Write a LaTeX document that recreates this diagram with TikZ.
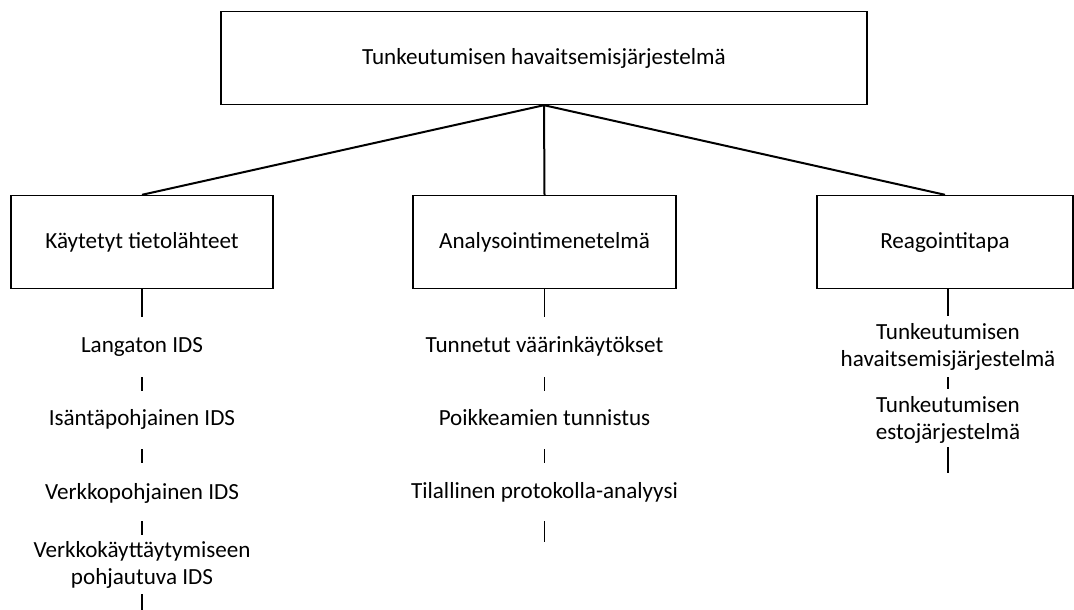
\documentclass[tikz,border=0pt]{standalone}
\usepackage{fontspec}
\setmainfont{Carlito}
\begin{document}
\begin{tikzpicture}[x=1pt,y=-1pt,
  box/.style={draw=black,line width=1.4pt,minimum height=93pt,inner sep=0pt,font=\fontsize{23.1}{27}\selectfont},
  item/.style={inner sep=0pt,align=center,font=\fontsize{23.1}{27}\selectfont},
  link/.style={line width=2pt},
  tick/.style={line width=1.6pt}]
\useasboundingbox (0,0) rectangle (1074,610);
\node[box,minimum width=646pt] (top) at (544,58) {Tunkeutumisen havaitsemisjärjestelmä};
\node[box,minimum width=262pt] (src) at (142,242) {Käytetyt tietolähteet};
\node[box,minimum width=263pt] (ana) at (544.5,242) {Analysointimenetelmä};
\node[box,minimum width=256pt] (rea) at (945,242) {Reagointitapa};
\draw[link] (top.south) -- (src.north);
\draw[link] (top.south) -- (ana.north);
\draw[link] (top.south) -- (rea.north);
% left column
\node[item] (s1) at (142,347) {Langaton IDS};
\node[item] (s2) at (142,419) {Isäntäpohjainen IDS};
\node[item] (s3) at (142,493) {Verkkopohjainen IDS};
\node[item] (s4) at (142,565) {Verkkokäyttäytymiseen\\pohjautuva IDS};
\coordinate (s1t) at (142,377); \coordinate (s1b) at (142,391);
\coordinate (s2t) at (142,449); \coordinate (s2b) at (142,463);
\coordinate (s3t) at (142,521); \coordinate (s3b) at (142,535);
\coordinate (s4t) at (142,594); \coordinate (s4b) at (142,610);
\coordinate (srcb) at (142,317);
\draw[tick] (src.south) -- (srcb);
\draw[tick] (s1t) -- (s1b);
\draw[tick] (s2t) -- (s2b);
\draw[tick] (s3t) -- (s3b);
\draw[tick] (s4t) -- (s4b);
% middle column
\node[item] (a1) at (544.5,346) {Tunnetut väärinkäytökset};
\node[item] (a2) at (544.5,418) {Poikkeamien tunnistus};
\node[item] (a3) at (544.5,492) {Tilallinen protokolla-analyysi};
\coordinate (anab) at (544.5,317);
\coordinate (a1t) at (544.5,377); \coordinate (a1b) at (544.5,391);
\coordinate (a2t) at (544.5,449); \coordinate (a2b) at (544.5,463);
\coordinate (a3t) at (544.5,521); \coordinate (a3b) at (544.5,542);
\draw[tick] (ana.south) -- (anab);
\draw[tick] (a1t) -- (a1b);
\draw[tick] (a2t) -- (a2b);
\draw[tick] (a3t) -- (a3b);
% right column
\node[item] (r1) at (948,346.5) {Tunkeutumisen\\havaitsemisjärjestelmä};
\node[item] (r2) at (948,419.5) {Tunkeutumisen\\estojärjestelmä};
\coordinate (reat) at (948,289);
\coordinate (reab) at (948,316);
\coordinate (r1t) at (948,377); \coordinate (r1b) at (948,389);
\coordinate (r2t) at (948,447); \coordinate (r2b) at (948,473);
\draw[tick] (reat) -- (reab);
\draw[tick] (r1t) -- (r1b);
\draw[tick] (r2t) -- (r2b);
\end{tikzpicture}
\end{document}
